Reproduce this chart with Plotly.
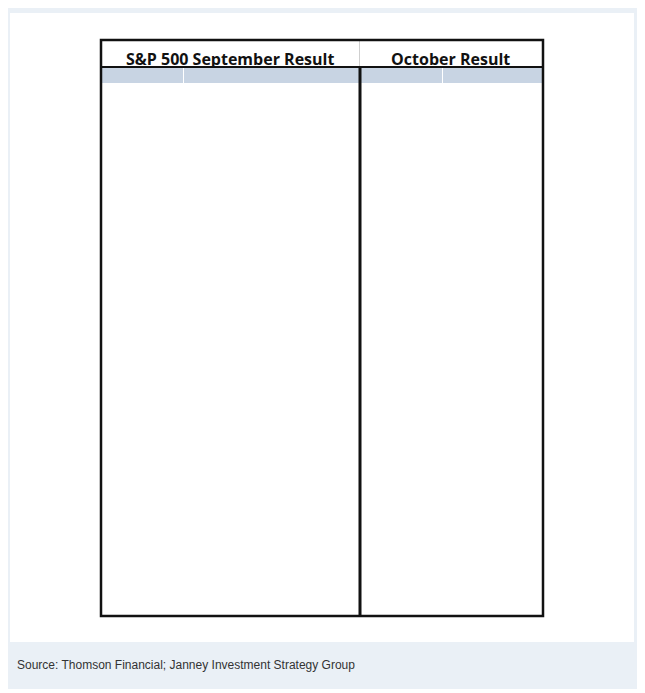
import plotly.graph_objects as go

# the page body has an 8px margin, so the figure is drawn 8px in from the window
OFF = 8
W, H = 645 - OFF, 693 - OFF

years = [str(y) for y in range(2000, 2023)]
sep_values = [-5.35, -8.17, -11.00, -1.19, 0.94, 0.69, 2.46, 3.57, -9.08, 3.57, 8.76,
              -7.18, 2.42, 4.69, -1.55, -2.64, -0.12, 1.93, -0.43, 1.72, -3.92, -4.76, -9.34]
oct_values = [-0.50, 1.81, 8.64, 5.50, 1.40, -1.77, 3.15, 1.48, -16.94, -1.98, 3.69,
              10.77, -1.98, 4.27, 2.32, 8.30, -1.94, 2.22, -6.94, 2.04, -2.77, 6.91, 7.99]
# the source leaves two negative October figures in black
oct_black_negatives = ["2000", "2018"]
headers = ["S&P 500 September Result", "October Result"]
source = "Source: Thomson Financial; Janney Investment Strategy Group"

RED, BLACK, GRID = "#e8262e", "#111111", "#cfcfcf"

# window pixel -> paper coords
px = lambda x: (x - OFF) / W
py = lambda y: 1 - (y - OFF) / H

X0, XM, X1 = 101, 360, 543
Y0, YH, Y1 = 40, 67, 616
row_h = (Y1 - YH) / len(years)

sep_col = [RED if v < 0 else BLACK for v in sep_values]
oct_col = [RED if (v < 0 and y not in oct_black_negatives) else BLACK
           for y, v in zip(years, oct_values)]
fmt = lambda v: f"{v:.2f}%"

fig = go.Figure()
fig.add_trace(go.Table(
    domain=dict(x=[px(X0), px(X1)], y=[py(YH), py(Y0)]),
    columnwidth=[XM - X0, X1 - XM],
    header=dict(values=[f"<b>{h}</b>" for h in headers], height=YH - Y0,
                fill_color="white", line_color=GRID, align="center",
                font=dict(family="Open Sans, Lato, sans-serif", size=16, color=BLACK)),
))
fig.add_trace(go.Table(
    domain=dict(x=[px(X0), px(X1)], y=[py(Y1), py(YH)]),
    columnwidth=[83, 176, 83, 100],
    cells=dict(
        values=[[f"<b>{y}</b>" for y in years], [fmt(v) for v in sep_values],
                [f"<b>{y}</b>" for y in years], [fmt(v) for v in oct_values]],
        height=row_h, fill_color="white", line_color=GRID,
        align=["center", "center", "center", "right"],
        font=dict(family="Liberation Sans, Arial, sans-serif", size=15,
                  color=[[BLACK] * len(years), sep_col, [BLACK] * len(years), oct_col]),
    ),
))

shapes = [
    dict(type="rect", x0=px(8), x1=px(638), y0=py(689), y1=py(5), fillcolor="#eaf0f6",
         line_width=0, layer="below"),
    dict(type="rect", x0=px(10), x1=px(634), y0=py(642), y1=py(13), fillcolor="white",
         line_width=0, layer="below"),
    dict(type="rect", x0=px(X0), x1=px(X1), y0=py(Y1), y1=py(Y0),
         line=dict(color=BLACK, width=2.5), layer="above"),
    dict(type="line", x0=px(XM), x1=px(XM), y0=py(Y1), y1=py(YH),
         line=dict(color=BLACK, width=3), layer="above"),
    dict(type="line", x0=px(X0), x1=px(X1), y0=py(YH), y1=py(YH),
         line=dict(color=BLACK, width=2), layer="above"),
]

fig.update_layout(
    width=W, height=H, margin=dict(l=0, r=0, t=0, b=0),
    paper_bgcolor="white", plot_bgcolor="white", shapes=shapes,
    annotations=[dict(text=source, x=px(15), y=py(665), xref="paper", yref="paper",
                      xanchor="left", yanchor="middle", showarrow=False,
                      font=dict(family="Liberation Sans Narrow, Liberation Sans, Arial",
                                size=12, color="#333333"))],
)
fig.write_html("out.html", config={"displayModeBar": False})
